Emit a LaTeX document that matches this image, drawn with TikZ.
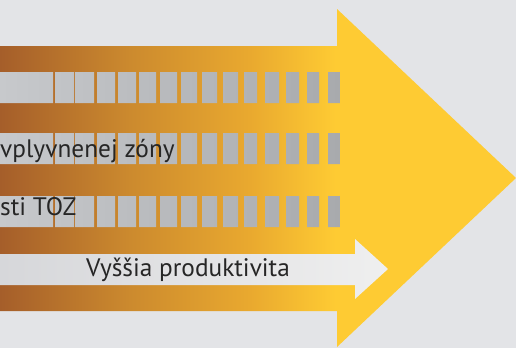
\documentclass[tikz,border=0pt]{standalone}
\usepackage{fontspec}
\setmainfont{PT Sans}
\definecolor{bgcol}{HTML}{E3E4E7}
\definecolor{brownA}{HTML}{A55E2A}
\definecolor{brownB}{HTML}{CC8A2E}
\definecolor{amberC}{HTML}{E9A92F}
\definecolor{yellowD}{HTML}{FECB33}
\definecolor{grayL}{HTML}{C7C9CC}
\definecolor{grayR}{HTML}{A8AAAD}
\definecolor{whiteL}{HTML}{D6D7DA}
\definecolor{whiteR}{HTML}{EFEFEF}
\definecolor{inkcol}{HTML}{262626}
% shaft colour run: brown on the left, amber, then flat yellow through the head
\pgfdeclarehorizontalshading{arrowrun}{100bp}{%
  color(0bp)=(brownA); color(25bp)=(brownA);
  color(37.6bp)=(brownB); color(49.2bp)=(amberC);
  color(57.5bp)=(yellowD); color(75bp)=(yellowD); color(100bp)=(yellowD)}
\tikzset{
  lbl/.style={inner sep=0pt, text=inkcol, font=\fontsize{25.3}{29}\selectfont},
}
\begin{document}
\begin{tikzpicture}[x=1pt,y=-1pt]
\useasboundingbox (0,0) rectangle (516,348);
\fill[bgcol] (0,0) rectangle (516,348);
% big arrow
\shade[shading=arrowrun]
  (0,46) -- (337,46) -- (337,9) -- (516,178) -- (337,347) -- (337,311) -- (0,311) -- cycle;
% three rows of grey blocks
\foreach \ya/\yb in {72/103, 133/164, 196/227}{
  \begin{scope}
    \clip \foreach \a/\b in {0/53,55/74,75/94,97/115,118/136,139/156,160/177,181/197,
                             202/217,223/238,244/257,265/279,286/299,307/319,328/340}
          { (\a,\ya) rectangle (\b,\yb) };
    \shade[left color=grayL, right color=grayR] (0,\ya) rectangle (340,\yb);
  \end{scope}
}
% light arrow
\shade[left color=whiteL, right color=whiteR]
  (0,254) -- (355,254) -- (355,239) -- (388,269) -- (355,299) -- (355,285) -- (0,285) -- cycle;
% labels
\node[lbl, anchor=base west] (zona) at (0,157) {vplyvnenej zóny};
\node[lbl, anchor=base west] (toz) at (0,215) {sti TOZ};
\node[lbl, anchor=base west] (prod) at (86,276) {Vyššia produktivita};
\end{tikzpicture}
\end{document}
